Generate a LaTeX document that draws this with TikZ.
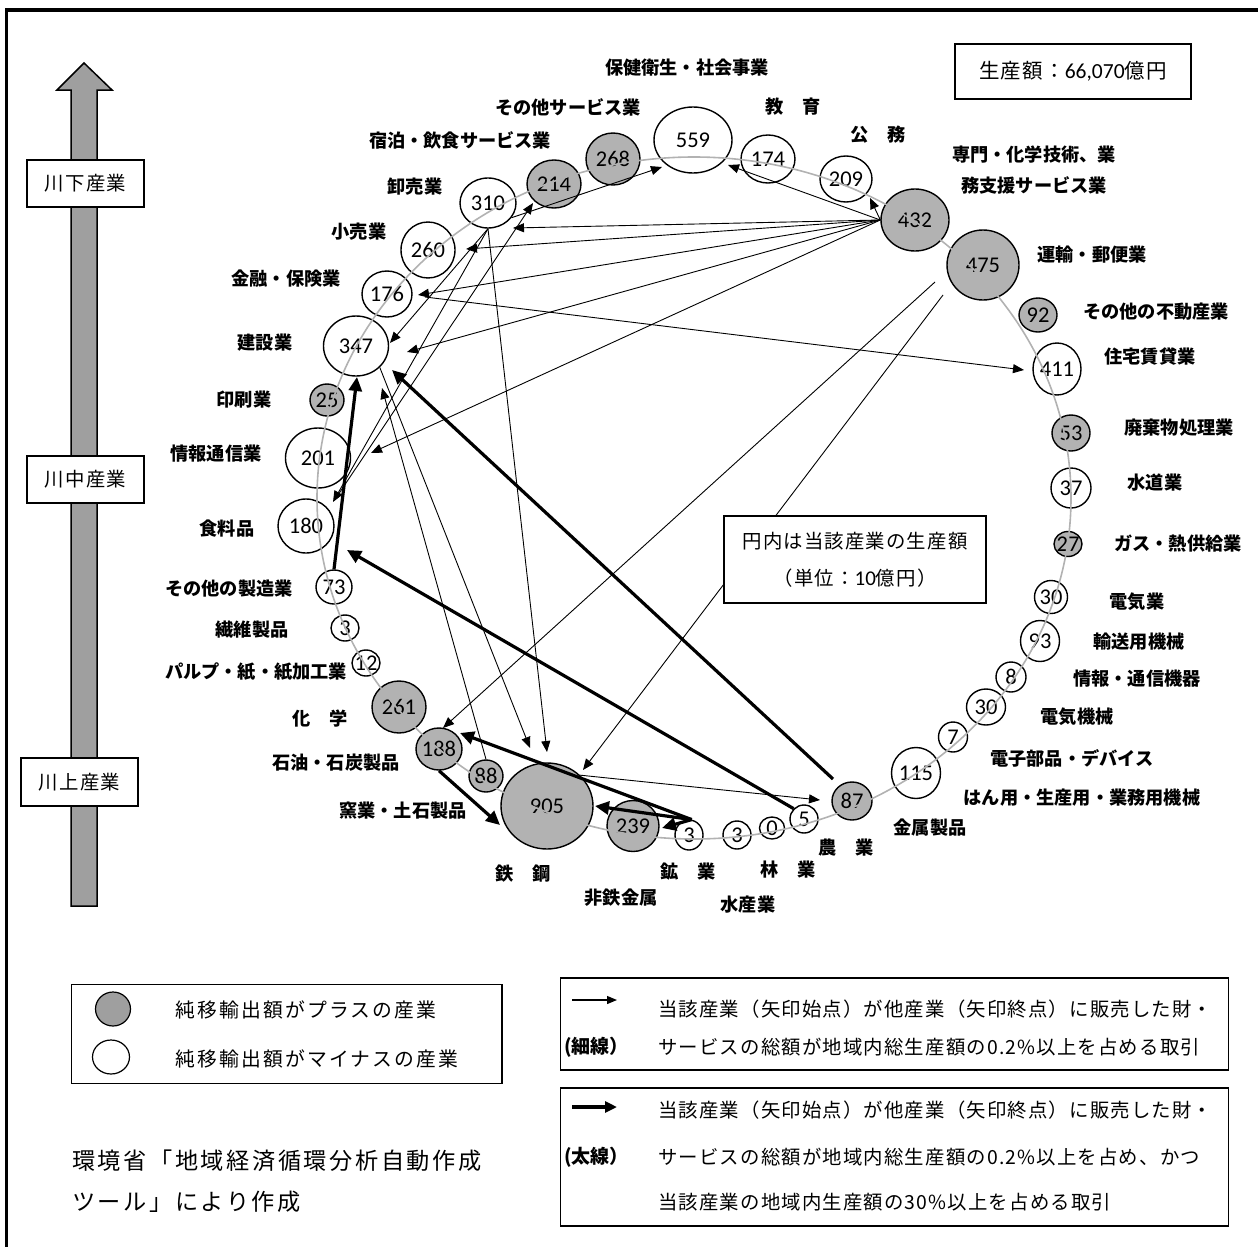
\documentclass[tikz,border=0pt]{standalone}
\usepackage{fontspec}
\newfontfamily\jp{Noto Sans CJK JP}
\newfontfamily\jpr{Noto Sans CJK JP}[LetterSpace=6]
\newfontfamily\jpw{Noto Sans CJK JP}[LetterSpace=11]
\newfontfamily\num{Carlito}
\usetikzlibrary{shapes.geometric,arrows.meta}
\begin{document}
\begin{tikzpicture}[x=1pt,y=-1pt,
  ind/.style={ellipse,draw=black,line width=1.4pt,inner sep=0pt,font=\num\fontsize{22.5}{22}\selectfont},
  plusind/.style={ind,fill=gray!60},
  minusind/.style={ind,fill=white},
  sz/.style n args={2}{minimum width=#1pt,minimum height=#2pt},
  lbl/.style={inner sep=0pt,font=\jp\bfseries\fontsize{18.2}{20}\selectfont},
  rg/.style={inner sep=0pt,font=\jpr\fontsize{19.4}{22}\selectfont},
  wbox/.style={draw=black,line width=1.3pt,fill=white,inner sep=0pt},
  thinarr/.style={line width=0.9pt,-{Triangle[length=11pt,width=9pt]}},
  thickarr/.style={line width=3.2pt,-{Triangle[length=14pt,width=13pt]}},
]
\useasboundingbox (0,0) rectangle (1258,1247);
% frame
\draw[line width=3.5pt] (1258,10) -- (6.5,10) -- (6.5,1247);
% big arrow
\draw[fill=gray!75,line width=1.5pt] (71,906) -- (71,90) -- (57,90) -- (84,63) -- (112,90) -- (97,90) -- (97,906) -- cycle;
\node[wbox,rg,sz={117}{47}] (kd) at (85.5,183.5) {川下産業};
\node[wbox,rg,sz={117}{47}] (km) at (85.5,479.5) {川中産業};
\node[wbox,rg,sz={117}{48}] (ku) at (79.5,782) {川上産業};
% total box
\node[wbox,sz={236}{55},font=\jpr\fontsize{20.5}{22}\selectfont] (total) at (1073,71.5) {生産額：{\num\fontsize{21.5}{22}\selectfont 66,070}億円};

% circles
\node[minusind,sz={78}{66}] (c559) at (693,140) {\makebox[0pt]{559}};
\node[plusind,sz={54}{52}] (c268) at (613,159) {\makebox[0pt]{268}};
\node[plusind,sz={54}{48}] (c214) at (554,184) {\makebox[0pt]{214}};
\node[minusind,sz={56}{50}] (c310) at (488,203) {\makebox[0pt]{310}};
\node[minusind,sz={54}{48}] (c174) at (768,159) {\makebox[0pt]{174}};
\node[minusind,sz={52}{46}] (c209) at (846,179) {\makebox[0pt]{209}};
\node[plusind,sz={68}{62}] (c432) at (915,220) {\makebox[0pt]{432}};
\node[plusind,sz={72}{70}] (c475) at (983,265) {\makebox[0pt]{475}};
\node[plusind,sz={38}{34}] (c92) at (1038,315) {\makebox[0pt]{92}};
\node[minusind,sz={48}{52}] (c411) at (1057,369) {\makebox[0pt]{411}};
\node[plusind,sz={38}{36}] (c53) at (1071,433) {\makebox[0pt]{53}};
\node[minusind,sz={40}{40}] (c37) at (1071,488) {\makebox[0pt]{37}};
\node[plusind,sz={28}{25}] (c27) at (1068,544) {\makebox[0pt]{27}};
\node[minusind,sz={33}{33}] (c30a) at (1051,597) {\makebox[0pt]{30}};
\node[minusind,sz={39}{41}] (c93) at (1040,641) {\makebox[0pt]{93}};
\node[minusind,sz={30}{30}] (c8) at (1011,677) {\makebox[0pt]{8}};
\node[minusind,sz={39}{36}] (c30b) at (986,707) {\makebox[0pt]{30}};
\node[minusind,sz={29}{30}] (c7) at (953,737) {\makebox[0pt]{7}};
\node[minusind,sz={49}{51}] (c115) at (916,773) {\makebox[0pt]{115}};
\node[plusind,sz={40}{38}] (c87) at (852,801) {\makebox[0pt]{87}};
\node[minusind,sz={28}{28}] (c5) at (804,819) {\makebox[0pt]{5}};
\node[minusind,sz={25}{22}] (c0) at (772,828) {\makebox[0pt]{0}};
\node[minusind,sz={28}{28}] (c3c) at (737,835) {\makebox[0pt]{3}};
\node[minusind,sz={28}{30}] (c3b) at (689,835) {\makebox[0pt]{3}};
\node[plusind,sz={52}{51}] (c239) at (633,826) {\makebox[0pt]{239}};
\node[plusind,sz={92}{86}] (c905) at (547,806) {\makebox[0pt]{905}};
\node[plusind,sz={34}{32}] (c88) at (486,776) {\makebox[0pt]{88}};
\node[plusind,sz={46}{42}] (c188) at (439,749) {\makebox[0pt]{188}};
\node[plusind,sz={54}{52}] (c261) at (399,707) {\makebox[0pt]{261}};
\node[minusind,sz={28}{26}] (c12) at (366,663) {\makebox[0pt]{12}};
\node[minusind,sz={28}{26}] (c3a) at (345,628) {\makebox[0pt]{3}};
\node[minusind,sz={36}{34}] (c73) at (334,587) {\makebox[0pt]{73}};
\node[minusind,sz={56}{54}] (c180) at (306,526) {\makebox[0pt]{180}};
\node[minusind,sz={65}{60}] (c201) at (318,458) {\makebox[0pt]{201}};
\node[plusind,sz={34}{32}] (c25) at (327,400) {\makebox[0pt]{25}};
\node[minusind,sz={65}{60}] (c347) at (356,346) {\makebox[0pt]{347}};
\node[minusind,sz={50}{46}] (c176) at (387,294) {\makebox[0pt]{176}};
\node[minusind,sz={54}{56}] (c260) at (428,250) {\makebox[0pt]{260}};

% gray ring
\draw[gray!60,line width=1.6pt] (694,498) ellipse [x radius=377pt,y radius=341pt];

% connector end points
\coordinate (t209) at (870,198);
\coordinate (t559) at (728,165);
\coordinate (t310) at (513,228);
\coordinate (t260) at (466,249);
\coordinate (t176) at (418,295);
\coordinate (t347a) at (407,352);
\coordinate (t201) at (371,453);
\coordinate (f176) at (425,297);
\coordinate (t411) at (1024,370);
\coordinate (t559b) at (662,167);
\coordinate (t347b) at (390,343);
\coordinate (t180) at (333,502);
\coordinate (t905a) at (547,752);
\coordinate (f180) at (336,498);
\coordinate (t214) at (533,203);
\coordinate (t905b) at (530,748);
\coordinate (t347c) at (382,388);
\coordinate (f475a) at (935,282);
\coordinate (t188a) at (443,728);
\coordinate (f475b) at (943,295);
\coordinate (t905c) at (583,770);
\coordinate (t87) at (820,800);
\coordinate (t347d) at (357,377);
\coordinate (t73) at (347,550);
\coordinate (f87) at (833,779);
\coordinate (t347e) at (392,370);
\coordinate (t188b) at (460,733);
\coordinate (t905d) at (595,806);
\coordinate (t239) at (662,828);
\coordinate (t905e) at (500,825);

% thin connectors
\draw[thinarr] (c432.west) -- (t209);
\draw[thinarr] (c432.west) -- (t559);
\draw[thinarr] (c432.west) -- (t310);
\draw[thinarr] (c432.west) -- (t260);
\draw[thinarr] (c432.west) -- (t176);
\draw[thinarr] (c432.west) -- (t347a);
\draw[thinarr] (c432.west) -- (t201);
\draw[thinarr] (f176) -- (t411);
\draw[thinarr] (c310.-32) -- (t559b);
\draw[thinarr] (c310.south) -- (t347b);
\draw[thinarr] (c310.south) -- (t180);
\draw[thinarr] (c310.south) -- (t905a);
\draw[thinarr] (f180) -- (t214);
\draw[thinarr] (c347.-42) -- (t905b);
\draw[thinarr] (c88.north) -- (t347c);
\draw[thinarr] (f475a) -- (t188a);
\draw[thinarr] (f475b) -- (t905c);
\draw[thinarr] (c905.43) -- (t87);
% thick connectors
\draw[thickarr] (c73.north) -- (t347d);
\draw[thickarr] (c5.135) -- (t73);
\draw[thickarr] (f87) -- (t347e);
\draw[thickarr] (c3b.80) -- (t188b);
\draw[thickarr] (c3b.80) -- (t905d);
\draw[thickarr] (c3b.80) -- (t239);
\draw[thickarr] (c188.south) -- (t905e);

% note box
\node[wbox,sz={262}{87},align=center,font=\jpr\fontsize{19.4}{37}\selectfont] (note) at (855,559.5) {円内は当該産業の生産額\\（単位：{\num\fontsize{21}{22}\selectfont 10}億円）};

% labels
\node[lbl] (l559) at (687,68) {保健衛生・社会事業};
\node[lbl] (l268) at (568,107) {その他サービス業};
\node[lbl] (l214) at (460,140) {宿泊・飲食サービス業};
\node[lbl] (l310) at (415,187) {卸売業};
\node[lbl] (l260) at (359,232) {小売業};
\node[lbl] (l176) at (286,279) {金融・保険業};
\node[lbl] (l347) at (265,343) {建設業};
\node[lbl] (l25) at (244,400) {印刷業};
\node[lbl] (l201) at (216,454) {情報通信業};
\node[lbl] (l180) at (227,529) {食料品};
\node[lbl] (l73) at (229,589) {その他の製造業};
\node[lbl] (l3a) at (252,630) {繊維製品};
\node[lbl] (l12) at (256,672) {パルプ・紙・紙加工業};
\node[lbl] (l261) at (320,719) {化　学};
\node[lbl] (l188) at (336,763) {石油・石炭製品};
\node[lbl] (l88) at (403,811) {窯業・土石製品};
\node[lbl] (l905) at (523,874) {鉄　鋼};
\node[lbl] (l239) at (621,898) {非鉄金属};
\node[lbl] (l3b) at (688,872) {鉱　業};
\node[lbl] (l3c) at (748,905) {水産業};
\node[lbl] (l0) at (788,870) {林　業};
\node[lbl] (l5) at (846,848) {農　業};
\node[lbl] (l87) at (930,828) {金属製品};
\node[lbl] (l115) at (1082,798) {はん用・生産用・業務用機械};
\node[lbl] (l7) at (1072,758) {電子部品・デバイス};
\node[lbl] (l30b) at (1077,717) {電気機械};
\node[lbl] (l8) at (1137,679) {情報・通信機器};
\node[lbl] (l93) at (1139,642) {輸送用機械};
\node[lbl] (l30a) at (1137,602) {電気業};
\node[lbl] (l27) at (1178,544) {ガス・熱供給業};
\node[lbl] (l37) at (1155,483) {水道業};
\node[lbl] (l53) at (1179,428) {廃棄物処理業};
\node[lbl] (l411) at (1150,357) {住宅賃貸業};
\node[lbl] (l92) at (1156,312) {その他の不動産業};
\node[lbl] (l475) at (1092,255) {運輸・郵便業};
\node[lbl] (l432a) at (1034,155) {専門・化学技術、業};
\node[lbl] (l432b) at (1034,185) {務支援サービス業};
\node[lbl] (l209) at (878,135) {公　務};
\node[lbl] (l174) at (793,107) {教　育};

% legend: circles
\node[wbox,line width=1.5pt,sz={430.5}{99}] (leg1) at (286.75,1034) {};
\node[ellipse,draw=black,line width=1.2pt,fill=gray!75,sz={35}{34}] (lgpos) at (113,1009) {};
\node[ellipse,draw=black,line width=1.2pt,fill=white,sz={37}{34}] (lgneg) at (111,1057) {};
\node[anchor=west,inner sep=0pt,font=\jpw\fontsize{19.8}{22}\selectfont] (ltpos) at (175,1010) {純移輸出額がプラスの産業};
\node[anchor=west,inner sep=0pt,font=\jpw\fontsize{19.8}{22}\selectfont] (ltneg) at (175,1059) {純移輸出額がマイナスの産業};

% source
\node[anchor=west,inner sep=0pt,font=\jpw\fontsize{23.2}{26}\selectfont] (src1) at (72,1161) {環境省「地域経済循環分析自動作成};
\node[anchor=west,inner sep=0pt,font=\jpw\fontsize{23.2}{26}\selectfont] (src2) at (72,1202) {ツール」により作成};

% legend: arrows
\node[wbox,line width=1.5pt,sz={668}{92}] (legA) at (894.5,1024) {};
\node[wbox,line width=1.5pt,sz={668}{138}] (legB) at (894.5,1157) {};
\coordinate (la1) at (572,1000);
\coordinate (la2) at (617,1000);
\coordinate (lb1) at (572,1107);
\coordinate (lb2) at (617,1107);
\draw[line width=1.2pt,-{Triangle[length=10pt,width=8pt]}] (la1) -- (la2);
\draw[line width=4pt,-{Triangle[length=12pt,width=11pt]}] (lb1) -- (lb2);
\node[inner sep=0pt,anchor=west,font=\jp\bfseries\fontsize{19}{22}\selectfont] (thinlbl) at (564,1047) {(細線）};
\node[inner sep=0pt,anchor=west,font=\jp\bfseries\fontsize{19}{22}\selectfont] (thicklbl) at (564,1157) {(太線）};
\node[rg,anchor=west] (a1) at (658,1009) {当該産業（矢印始点）が他産業（矢印終点）に販売した財・};
\node[rg,anchor=west] (a2) at (658,1047) {サービスの総額が地域内総生産額の0.2\%以上を占める取引};
\node[rg,anchor=west] (b1) at (658,1110) {当該産業（矢印始点）が他産業（矢印終点）に販売した財・};
\node[rg,anchor=west] (b2) at (658,1157) {サービスの総額が地域内総生産額の0.2\%以上を占め、かつ};
\node[rg,anchor=west] (b3) at (658,1202) {当該産業の地域内生産額の30\%以上を占める取引};
\end{tikzpicture}
\end{document}
